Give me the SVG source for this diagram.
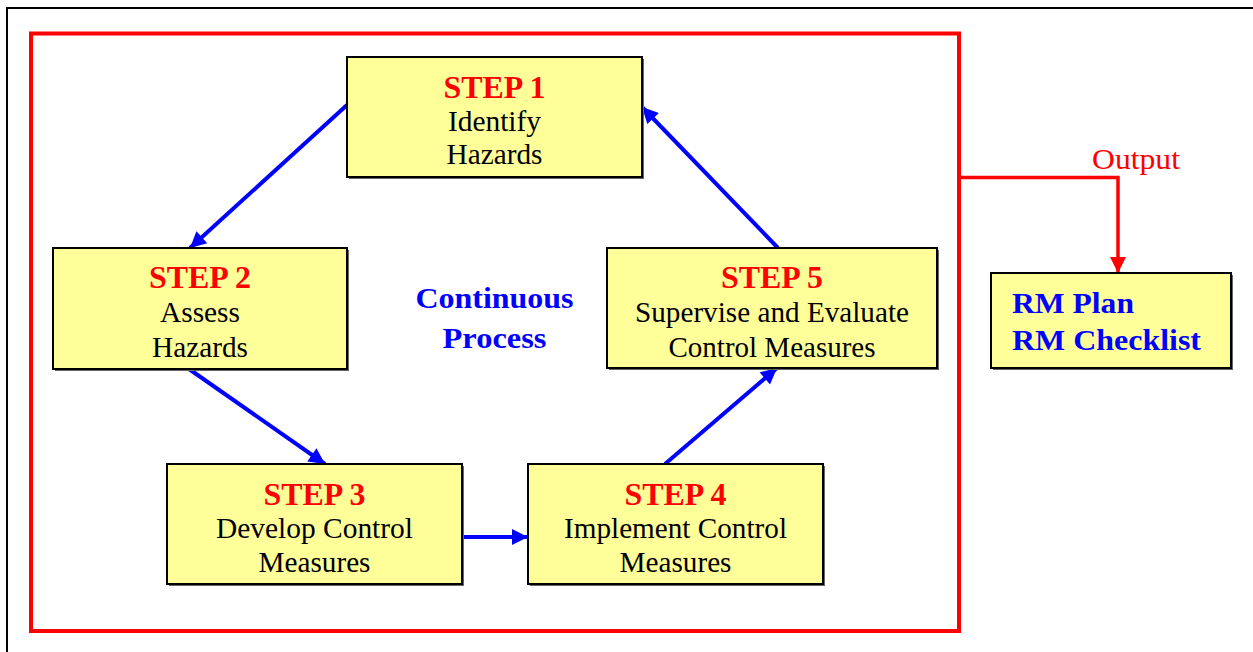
<svg xmlns="http://www.w3.org/2000/svg" width="1253" height="652" viewBox="0 0 1253 652">
<style>
text{font-family:'Liberation Serif','Times New Roman',Times,serif}
.box{fill:#ffff99;stroke:#000;stroke-width:2}
.shadow{fill:#666}
.step{font-weight:bold;font-size:32px;fill:#ff0000;text-anchor:middle}
.txt{font-size:28.5px;fill:#000;text-anchor:middle}
.blue{font-weight:bold;font-size:29px;fill:#0000ff}
.conn{stroke:#0000ff;stroke-width:4;fill:none;marker-end:url(#ab)}
</style>
<defs>
<marker id="ab" viewBox="0 0 10 10" refX="10" refY="5" markerUnits="userSpaceOnUse" markerWidth="18" markerHeight="16" orient="auto">
<path d="M0,0 L10,5 L0,10 z" fill="#0000ff"/>
</marker>
<marker id="ar" viewBox="0 0 10 10" refX="10" refY="5" markerUnits="userSpaceOnUse" markerWidth="18" markerHeight="16" orient="auto">
<path d="M0,0 L10,5 L0,10 z" fill="#ff0000"/>
</marker>
</defs>
<rect x="0" y="0" width="1253" height="652" fill="#fff"/>
<rect x="7" y="8" width="1270" height="670" fill="none" stroke="#000" stroke-width="2"/>
<rect id="frame" x="31" y="33.5" width="928" height="597.5" fill="none" stroke="#ff0000" stroke-width="4"/>

<g id="connectors">
<line class="conn" x1="347" y1="105" x2="190" y2="248"/>
<line class="conn" x1="189" y1="369" x2="325" y2="464"/>
<line class="conn" x1="462" y1="537" x2="528" y2="537"/>
<line class="conn" x1="665" y1="464" x2="777" y2="368"/>
<line class="conn" x1="778" y1="248" x2="642" y2="107"/>
<path d="M961,177.5 H1118 V273" fill="none" stroke="#ff0000" stroke-width="3.5" marker-end="url(#ar)"/>
<text x="1136" y="169" text-anchor="middle" font-size="29" fill="#ff0000" textLength="88" lengthAdjust="spacingAndGlyphs">Output</text>
</g>

<g id="step1">
<rect class="shadow" x="349" y="59" width="295" height="120"/>
<rect class="box" x="347" y="57" width="295" height="120"/>
<text class="step" x="494.5" y="98" textLength="102" lengthAdjust="spacingAndGlyphs">STEP 1</text>
<text class="txt" x="494.5" y="131" textLength="93" lengthAdjust="spacingAndGlyphs">Identify</text>
<text class="txt" x="494.5" y="164" textLength="96" lengthAdjust="spacingAndGlyphs">Hazards</text>
</g>

<g id="step2">
<rect class="shadow" x="55" y="250" width="294" height="121"/>
<rect class="box" x="53" y="248" width="294" height="121"/>
<text class="step" x="200" y="288" textLength="102" lengthAdjust="spacingAndGlyphs">STEP 2</text>
<text class="txt" x="200" y="322" textLength="80" lengthAdjust="spacingAndGlyphs">Assess</text>
<text class="txt" x="200" y="357" textLength="96" lengthAdjust="spacingAndGlyphs">Hazards</text>
</g>

<g id="step3">
<rect class="shadow" x="169" y="466" width="295" height="120"/>
<rect class="box" x="167" y="464" width="295" height="120"/>
<text class="step" x="314.5" y="505" textLength="102" lengthAdjust="spacingAndGlyphs">STEP 3</text>
<text class="txt" x="314.5" y="538" textLength="197" lengthAdjust="spacingAndGlyphs">Develop Control</text>
<text class="txt" x="314.5" y="572" textLength="112" lengthAdjust="spacingAndGlyphs">Measures</text>
</g>

<g id="step4">
<rect class="shadow" x="530" y="466" width="295" height="120"/>
<rect class="box" x="528" y="464" width="295" height="120"/>
<text class="step" x="675.5" y="505" textLength="102" lengthAdjust="spacingAndGlyphs">STEP 4</text>
<text class="txt" x="675.5" y="538" textLength="223" lengthAdjust="spacingAndGlyphs">Implement Control</text>
<text class="txt" x="675.5" y="572" textLength="112" lengthAdjust="spacingAndGlyphs">Measures</text>
</g>

<g id="step5">
<rect class="shadow" x="609" y="250" width="330" height="120"/>
<rect class="box" x="607" y="248" width="330" height="120"/>
<text class="step" x="772" y="288" textLength="102" lengthAdjust="spacingAndGlyphs">STEP 5</text>
<text class="txt" x="772" y="322" textLength="274" lengthAdjust="spacingAndGlyphs">Supervise and Evaluate</text>
<text class="txt" x="772" y="357" textLength="207" lengthAdjust="spacingAndGlyphs">Control Measures</text>
</g>

<g id="center-label">
<text class="blue" x="494.5" y="308" text-anchor="middle" textLength="158" lengthAdjust="spacingAndGlyphs">Continuous</text>
<text class="blue" x="494.5" y="348" text-anchor="middle" textLength="104" lengthAdjust="spacingAndGlyphs">Process</text>
</g>

<g id="output">
<rect class="shadow" x="993" y="275" width="240" height="95"/>
<rect class="box" x="991" y="273" width="240" height="95"/>
<text class="blue" x="1012" y="313" textLength="122" lengthAdjust="spacingAndGlyphs">RM Plan</text>
<text class="blue" x="1012" y="350" textLength="189" lengthAdjust="spacingAndGlyphs">RM Checklist</text>
</g>
</svg>
